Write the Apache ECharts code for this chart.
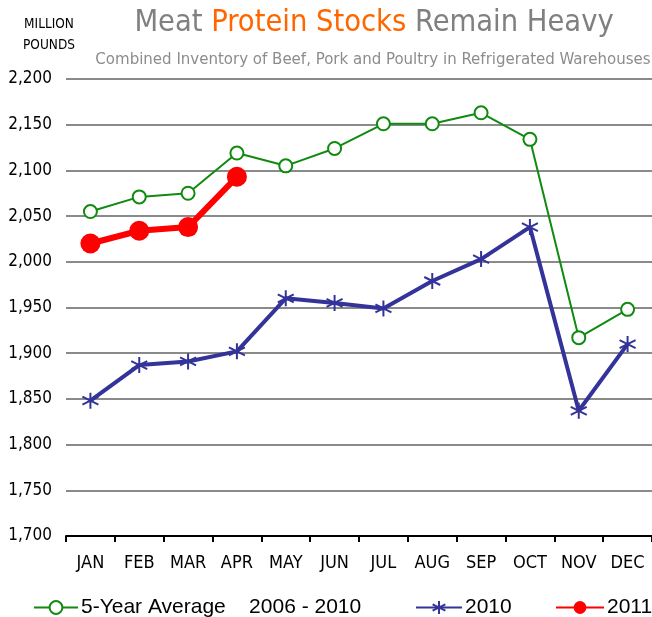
<!DOCTYPE html>
<html>
<head>
<meta charset="utf-8">
<script src="https://cdn.jsdelivr.net/npm/echarts@6/dist/echarts.min.js"></script>
<style>
html, body { margin: 0; padding: 0; background: #fff; }
#chart { width: 652px; height: 617px; }
</style>
</head>
<body>
<div id="chart"></div>
<script>
var months = ["JAN", "FEB", "MAR", "APR", "MAY", "JUN", "JUL", "AUG", "SEP", "OCT", "NOV", "DEC"];
var avg5 = [2055, 2071, 2075, 2119, 2105, 2124, 2151, 2151, 2163, 2134, 1917, 1948];
var y2010 = [1848, 1887, 1891, 1902, 1960, 1955, 1949, 1979, 2003, 2038, 1837, 1910];
var y2011 = [2020, 2034, 2038, 2093];

var narrow = '"DejaVu Sans Condensed", sans-serif';
var wide = '"Liberation Sans", "DejaVu Sans", sans-serif';
var starPath = 'path://M0,-10L0,10M-8.66,-5L8.66,5M-8.66,5L8.66,-5';

function legendAt(x, name, w) {
    return {
        top: 592, left: x, itemWidth: w, itemHeight: 16, itemGap: 0, selectedMode: false,
        textStyle: { fontSize: 21, color: '#000', fontFamily: wide, padding: [0, 0, 0, -2] },
        data: [name]
    };
}

var myChart = echarts.init(document.getElementById('chart'));

var option = {
    animation: false,
    title: [{
        text: '{g|Meat }{o|Protein Stocks}{g| Remain Heavy}',
        left: 369, top: 3, textAlign: 'center',
        textStyle: {
            rich: {
                g: { color: '#808080', fontSize: 30.5, fontFamily: narrow, fontWeight: 'normal' },
                o: { color: '#ff6600', fontSize: 30.5, fontFamily: narrow, fontWeight: 'normal' }
            }
        }
    }, {
        text: 'Combined Inventory of Beef, Pork and Poultry in Refrigerated Warehouses',
        left: 368, top: 46, textAlign: 'center',
        textStyle: { color: '#8c8c8c', fontSize: 16.7, fontWeight: 'normal', fontFamily: narrow }
    }, {
        text: 'MILLION\nPOUNDS',
        left: 44, top: 9, textAlign: 'center',
        textStyle: { color: '#000', fontSize: 13.5, fontWeight: 'normal', fontFamily: narrow, lineHeight: 21 }
    }],
    legend: [
        legendAt(28, '5-Year Average    2006 - 2010', 44),
        legendAt(410, '2010', 46),
        legendAt(550, '2011', 48)
    ],
    grid: { left: 66, top: 79, width: 593, height: 457 },
    xAxis: {
        type: 'category',
        data: months,
        boundaryGap: true,
        axisLine: { lineStyle: { color: '#000', width: 2 } },
        axisTick: { show: true, length: 6, lineStyle: { color: '#000', width: 2 } },
        axisLabel: { color: '#000', fontSize: 18, margin: 18, fontFamily: narrow }
    },
    yAxis: {
        type: 'value',
        min: 1700, max: 2200, interval: 50,
        axisLine: { show: false },
        axisTick: { show: false },
        axisLabel: {
            color: '#000', fontSize: 17, margin: 14, fontFamily: narrow,
            formatter: function (v) { return v.toLocaleString('en-US'); }
        },
        splitLine: { lineStyle: { color: '#8a8a8a', width: 2 } }
    },
    series: [{
        name: '5-Year Average    2006 - 2010',
        type: 'line',
        data: avg5,
        symbol: 'circle', symbolSize: 13,
        itemStyle: { color: '#fff', borderColor: '#108a10', borderWidth: 2 },
        lineStyle: { color: '#108a10', width: 2 },
        z: 3
    }, {
        name: '2010',
        type: 'line',
        data: y2010,
        symbol: starPath,
        symbolSize: 16,
        itemStyle: { color: '#fff', borderColor: '#333399', borderWidth: 2 },
        lineStyle: { color: '#333399', width: 4 },
        z: 2
    }, {
        name: '2011',
        type: 'line',
        data: y2011,
        symbol: 'circle', symbolSize: 20,
        itemStyle: { color: '#ff0000', borderColor: '#ff0000', borderWidth: 0 },
        lineStyle: { color: '#ff0000', width: 6 },
        z: 4
    }]
};

myChart.setOption(option);
</script>
</body>
</html>
